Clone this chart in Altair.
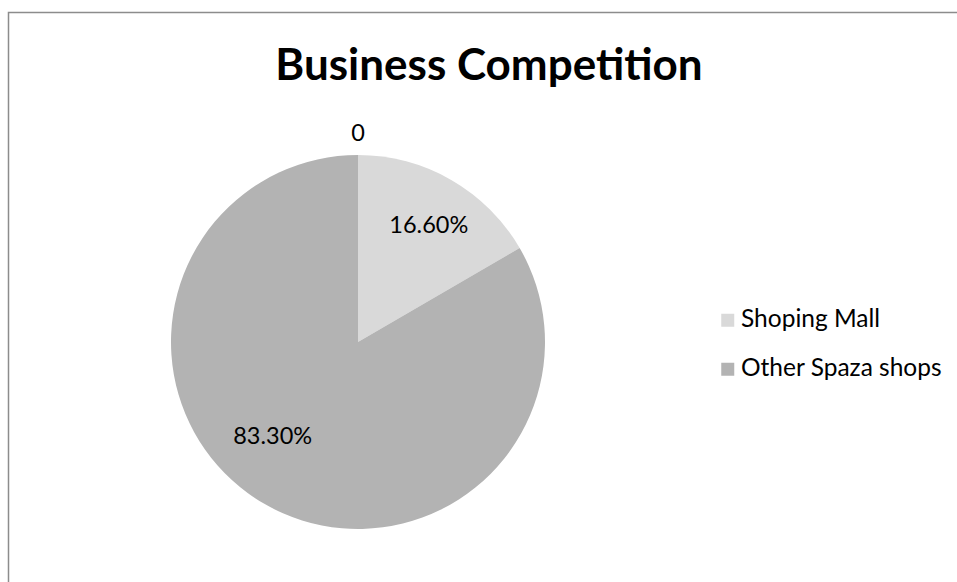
import altair as alt
import pandas as pd

# ---- data ----
categories = ["Shoping Mall", "Other Spaza shops", "Other"]
values = [16.6, 83.3, 0]
labels = ["16.60%", "83.30%", "0"]
slice_order = [0, 1, 2]
colors = ["#d9d9d9", "#b3b3b3", "#a0a0a0"]
legend_items = ["Shoping Mall", "Other Spaza shops"]
title_text = ["Business Competition"]

df = pd.DataFrame({
    "category": categories,
    "value": values,
    "label": labels,
    "order": slice_order,
})

W, H = 957, 582
CX, CY, R = 358, 342, 187
FONT = "Lato"

color_scale = alt.Scale(domain=categories, range=colors)

base = alt.Chart(df).encode(
    theta=alt.Theta("value:Q", stack=True),
    order=alt.Order("order:Q"),
    x=alt.value(CX),
    y=alt.value(CY),
)

arcs = base.mark_arc(outerRadius=R, strokeWidth=0).encode(
    color=alt.Color(
        "category:N",
        scale=color_scale,
        legend=alt.Legend(
            values=legend_items,
            title=None,
            orient="none",
            legendX=715.5,
            legendY=308,
            symbolType="square",
            symbolSize=169,
            symbolStrokeWidth=0,
            labelFont=FONT,
            labelFontSize=24.5,
            labelColor="#000000",
            labelOffset=1,
            labelLimit=0,
            rowPadding=24,
            padding=0,
        ),
    )
)


def label_layer(cat, radius, dx, dy):
    return base.mark_text(
        radius=radius, font=FONT, fontSize=23.5, color="#000000",
        align="center", baseline="middle", dx=dx, dy=dy,
    ).encode(
        text=alt.condition(alt.datum.category == cat, "label:N", alt.value("")),
    )


lab1 = label_layer("Shoping Mall", 136, 3, 2)
lab2 = label_layer("Other Spaza shops", 136, -17.5, -23)
lab3 = label_layer("Other", 208, 0, 0)

title = alt.Chart(pd.DataFrame({"t": title_text})).mark_text(
    font=FONT, fontSize=44, fontWeight="bold", color="#000000",
    align="center", baseline="alphabetic",
).encode(text="t:N", x=alt.value(489), y=alt.value(80))

frame = alt.Chart(pd.DataFrame({"t": title_text})).mark_rect(
    fill="transparent", stroke="#8c8c8c", strokeWidth=1.5,
).encode(x=alt.value(8.5), x2=alt.value(W + 20), y=alt.value(12.5), y2=alt.value(H + 20))

chart = alt.layer(frame, arcs, lab1, lab2, lab3, title).properties(
    width=W, height=H,
    autosize=alt.AutoSizeParams(type="none"),
    padding=0,
    background="#ffffff",
).configure_view(stroke=None)

chart.save("out.html", embed_options={"renderer": "svg", "actions": False})
